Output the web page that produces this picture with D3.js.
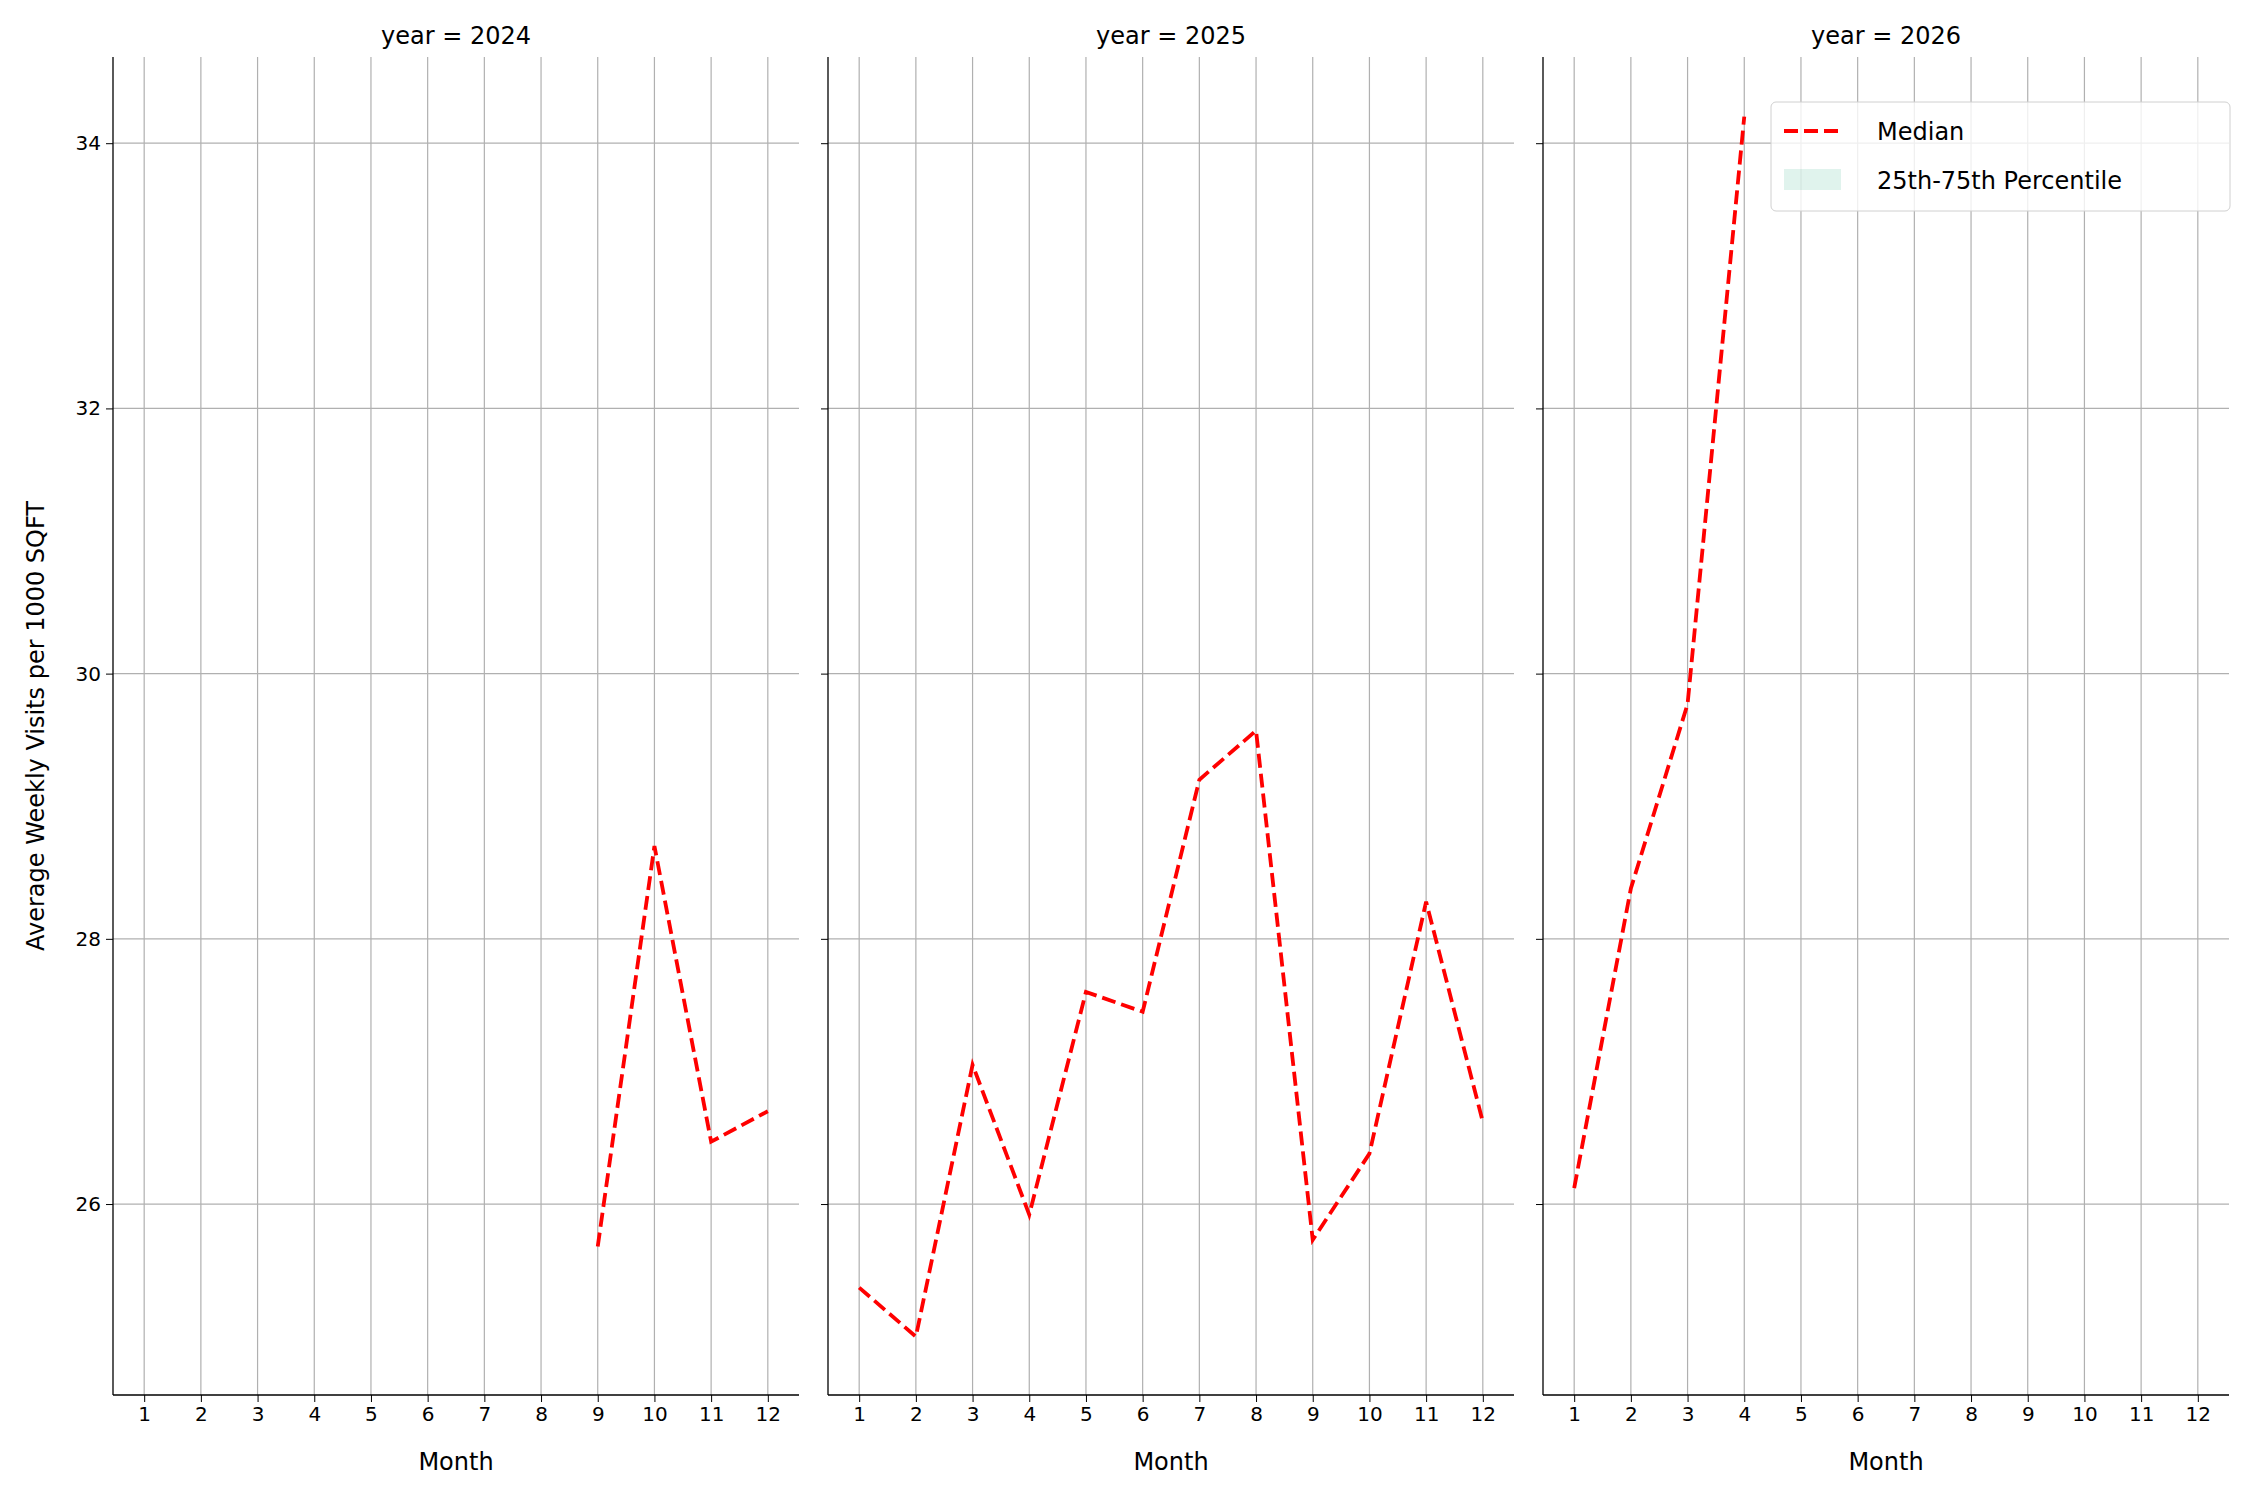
<!DOCTYPE html>
<html><head><meta charset="utf-8">
<script src="https://cdn.jsdelivr.net/npm/d3@7"></script>
<style>body{margin:0;background:#fff}text{font-family:"DejaVu Sans",sans-serif}</style>
</head><body>
<script>
const years = [2024, 2025, 2026];
const months = [1,2,3,4,5,6,7,8,9,10,11,12];
const yTicks = [26, 28, 30, 32, 34];
const median2024 = [[9,25.68],[10,28.7],[11,26.47],[12,26.7]];
const median2025 = [[1,25.37],[2,25.0],[3,27.05],[4,25.92],[5,27.6],[6,27.45],[7,29.2],[8,29.57],[9,25.73],[10,26.38],[11,28.28],[12,26.62]];
const median2026 = [[1,26.12],[2,28.38],[3,29.77],[4,34.2]];
const series = [median2024, median2025, median2026];

const W = 2250, H = 1500;
const svg = d3.select('body').append('svg').attr('width', W).attr('height', H);
const plotTop = 57, plotBottom = 1395;
const panelX = [113, 828, 1543], pw = 686;
const y = d3.scaleLinear().domain([24.56, 34.65]).range([plotBottom, plotTop]);

years.forEach((yr, i) => {
    const x = d3.scaleLinear().domain([0.45, 12.55]).range([panelX[i], panelX[i] + pw]);
    const g = svg.append('g');
    // grid
    g.selectAll('.vg').data(months).enter().append('line')
        .attr('x1', d => x(d)).attr('x2', d => x(d)).attr('y1', plotTop).attr('y2', plotBottom)
        .attr('stroke', '#b0b0b0').attr('stroke-width', 1.2);
    g.selectAll('.hg').data(yTicks).enter().append('line')
        .attr('x1', panelX[i]).attr('x2', panelX[i] + pw).attr('y1', d => y(d)).attr('y2', d => y(d))
        .attr('stroke', '#b0b0b0').attr('stroke-width', 1.2);
    const xa = g.append('g').attr('transform', `translate(0,${plotBottom})`)
        .call(d3.axisBottom(x).tickValues(months).tickSize(7).tickPadding(5));
    xa.select('.domain').attr('d', `M${panelX[i]},0H${panelX[i] + pw}`).attr('stroke-width', 1.3);
    xa.selectAll('text').attr('font-size', 20);
    const ya = g.append('g').attr('transform', `translate(${panelX[i]},0)`)
        .call(d3.axisLeft(y).tickValues(yTicks).tickSize(7).tickPadding(5).tickFormat(i === 0 ? d3.format('d') : ''));
    ya.select('.domain').attr('d', `M0,${plotTop}V${plotBottom}`).attr('stroke-width', 1.3);
    ya.selectAll('text').attr('font-size', 20);
    g.append('text').attr('x', panelX[i] + pw / 2).attr('y', 44).attr('text-anchor', 'middle')
        .attr('font-size', 24).text(`year = ${yr}`);
    g.append('text').attr('x', panelX[i] + pw / 2).attr('y', 1470).attr('text-anchor', 'middle')
        .attr('font-size', 24).text('Month');
    g.append('path').datum(series[i])
        .attr('d', d3.line().x(d => x(d[0])).y(d => y(d[1])))
        .attr('fill', 'none').attr('stroke', 'red').attr('stroke-width', 3.8)
        .attr('stroke-dasharray', '14,6');
});

svg.append('text').attr('transform', `translate(44,${(plotTop + plotBottom) / 2}) rotate(-90)`)
    .attr('text-anchor', 'middle').attr('font-size', 24).text('Average Weekly Visits per 1000 SQFT');

// legend
const lg = svg.append('g').attr('transform', 'translate(1771,102)');
lg.append('rect').attr('width', 459).attr('height', 109).attr('rx', 5)
    .attr('fill', 'white').attr('fill-opacity', 0.8).attr('stroke', '#d0d0d0');
lg.append('line').attr('x1', 13).attr('x2', 70).attr('y1', 29).attr('y2', 29)
    .attr('stroke', 'red').attr('stroke-width', 3.8).attr('stroke-dasharray', '14,6');
lg.append('text').attr('x', 106).attr('y', 38).attr('font-size', 24).text('Median');
lg.append('rect').attr('x', 13).attr('y', 67).attr('width', 57).attr('height', 21)
    .attr('fill', '#66c2a5').attr('fill-opacity', 0.2);
lg.append('text').attr('x', 106).attr('y', 87).attr('font-size', 24).text('25th-75th Percentile');
</script>
</body></html>
